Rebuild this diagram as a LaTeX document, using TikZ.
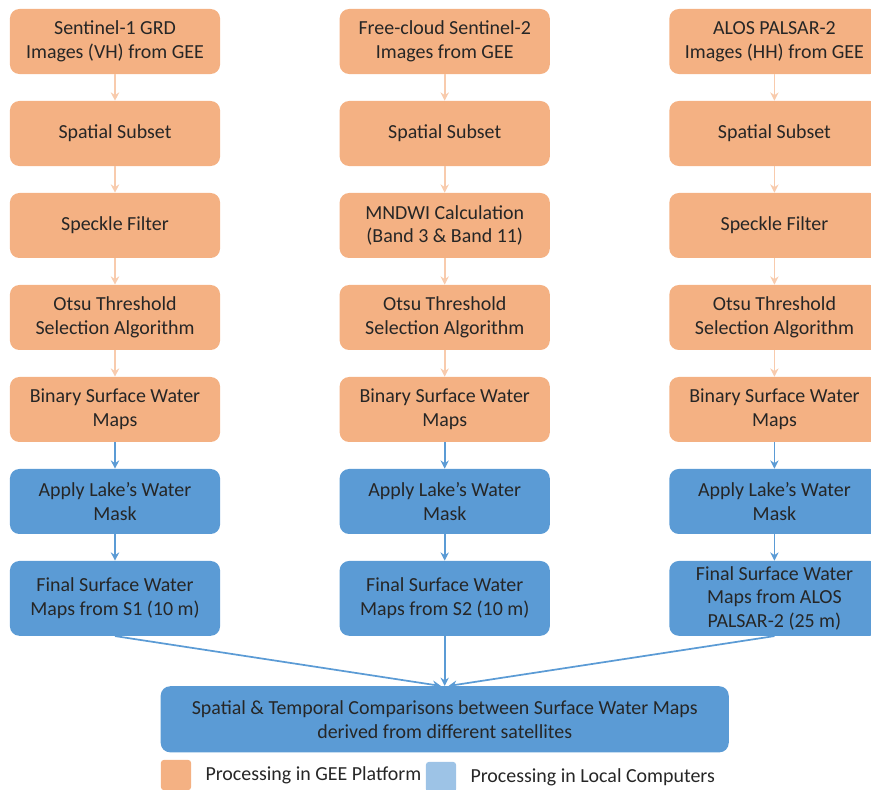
\documentclass[tikz,border=0pt]{standalone}
\usepackage{fontspec}
\setmainfont{Carlito}
\usepackage{tikz}
\usetikzlibrary{positioning,arrows.meta}
\definecolor{geeorange}{HTML}{F4B183}
\definecolor{paleorange}{HTML}{F8CBAD}
\definecolor{localblue}{HTML}{5B9BD5}
\definecolor{legendblue}{HTML}{9DC3E6}
\tikzstyle{gee} = [rectangle, rounded corners=0.25cm, fill=geeorange, minimum width=5.56cm, minimum height=1.72cm, align=center, text=black!85, font=\fontsize{15}{18}\selectfont]
\tikzstyle{local} = [gee, fill=localblue]
\tikzstyle{orarrow} = [-{Stealth[length=2.2mm,width=2.2mm]}, paleorange, line width=1.3pt]
\tikzstyle{blarrow} = [-{Stealth[length=2.2mm,width=2.2mm]}, localblue, line width=1.3pt]
\tikzstyle{legsq} = [rectangle, rounded corners=0.08cm, minimum size=0.8cm, inner sep=0pt]

\begin{document}
\begin{tikzpicture}[x=0.02646cm, y=-0.02646cm, node distance=0.7cm]
    \useasboundingbox (0,0) rectangle (871,789);
    % Sentinel-1 column
    \node[gee] (sonesrc) at (115,41.5) {Sentinel-1 GRD\\Images (VH) from GEE};
    \node[gee, below=of sonesrc] (sonesub) {Spatial Subset};
    \node[gee, below=of sonesub] (sonespk) {Speckle Filter};
    \node[gee, below=of sonespk] (soneotsu) {Otsu Threshold\\Selection Algorithm};
    \node[gee, below=of soneotsu] (sonebin) {Binary Surface Water\\Maps};
    \node[local, below=of sonebin] (sonemask) {Apply Lake’s Water\\Mask};
    \node[local, below=of sonemask, minimum height=1.98cm] (sonefin) {Final Surface Water\\Maps from S1 (10 m)};
    % Sentinel-2 column
    \node[gee, right=3.15cm of sonesrc] (stwosrc) {Free-cloud Sentinel-2\\Images from GEE};
    \node[gee, below=of stwosrc] (stwosub) {Spatial Subset};
    \node[gee, below=of stwosub] (stwomndwi) {MNDWI Calculation\\(Band 3 \& Band 11)};
    \node[gee, below=of stwomndwi] (stwootsu) {Otsu Threshold\\Selection Algorithm};
    \node[gee, below=of stwootsu] (stwobin) {Binary Surface Water\\Maps};
    \node[local, below=of stwobin] (stwomask) {Apply Lake’s Water\\Mask};
    \node[local, below=of stwomask, minimum height=1.98cm] (stwofin) {Final Surface Water\\Maps from S2 (10 m)};
    % ALOS PALSAR-2 column
    \node[gee, right=3.15cm of stwosrc] (alossrc) {ALOS PALSAR-2\\Images (HH) from GEE};
    \node[gee, below=of alossrc] (alossub) {Spatial Subset};
    \node[gee, below=of alossub] (alosspk) {Speckle Filter};
    \node[gee, below=of alosspk] (alosotsu) {Otsu Threshold\\Selection Algorithm};
    \node[gee, below=of alosotsu] (alosbin) {Binary Surface Water\\Maps};
    \node[local, below=of alosbin] (alosmask) {Apply Lake’s Water\\Mask};
    \node[local, below=of alosmask, minimum height=1.98cm] (alosfin) {Final Surface Water\\Maps from ALOS\\PALSAR-2 (25 m)};
    % comparison
    \node[local, below=1.32cm of stwofin, minimum width=15.03cm, minimum height=1.75cm] (comp) {Spatial \& Temporal Comparisons between Surface Water Maps\\derived from different satellites};
    % legend
    \node[legsq, fill=geeorange] (leggee) at (176,775) {};
    \node[right=0.25cm of leggee, text=black!85, font=\fontsize{15}{18}\selectfont] (leggeetxt) {Processing in GEE Platform};
    \node[legsq, fill=legendblue] (leglocal) at (441,777) {};
    \node[right=0.25cm of leglocal, text=black!85, font=\fontsize{15}{18}\selectfont] (leglocaltxt) {Processing in Local Computers};

    \foreach \col in {sone,alos} {
        \draw[orarrow] (\col src) -- (\col sub);
        \draw[orarrow] (\col sub) -- (\col spk);
        \draw[orarrow] (\col spk) -- (\col otsu);
    }
    \draw[orarrow] (stwosrc) -- (stwosub);
    \draw[orarrow] (stwosub) -- (stwomndwi);
    \draw[orarrow] (stwomndwi) -- (stwootsu);
    \foreach \col in {sone,stwo,alos} {
        \draw[orarrow] (\col otsu) -- (\col bin);
        \draw[blarrow] (\col bin) -- (\col mask);
        \draw[blarrow] (\col mask) -- (\col fin);
    }
    \draw[blarrow] (sonefin.south) -- ([xshift=-0.1cm]comp.north);
    \draw[blarrow] (stwofin.south) -- (comp.north);
    \draw[blarrow] (alosfin.south) -- ([xshift=0.1cm]comp.north);
\end{tikzpicture}
\end{document}
